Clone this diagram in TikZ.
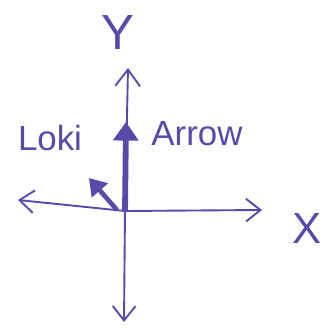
\documentclass[tikz,border=0pt]{standalone}
\usepackage{fontspec}
\setsansfont{Liberation Sans}
\usetikzlibrary{arrows.meta}
\definecolor{pen}{RGB}{88,74,168}

\begin{document}
\begin{tikzpicture}[x=0.0242cm, y=-0.0242cm, every node/.style={text=pen, font=\sffamily\fontsize{24}{26}\selectfont}]
    \useasboundingbox (0,0) rectangle (331,331);
    % Define the origin and the ends of the axes
    \coordinate (O) at (125,211);
    \coordinate (Xp) at (262,210);
    \coordinate (Xm) at (18,200);
    \coordinate (Yp) at (128,68);
    \coordinate (Ym) at (124,322);
    \coordinate (Atip) at (126,122);
    \coordinate (Lbase) at (117,210);
    \coordinate (Ltip) at (89,178);

    % Draw the axes with open tips
    \draw[pen, line width=1.3pt, {Straight Barb[length=0.35cm, width=0.55cm]}-{Straight Barb[length=0.35cm, width=0.55cm]}] (Xm) -- (O) -- (Xp);
    \draw[pen, line width=1.3pt, {Straight Barb[length=0.35cm, width=0.55cm]}-{Straight Barb[length=0.4cm, width=0.6cm]}] (Ym) -- (O) -- (Yp);

    % Draw the two thick arrows
    \draw[pen, line width=4pt, -{Triangle[length=0.45cm, width=0.6cm]}] (O) -- (Atip);
    \draw[pen, line width=3.2pt, -{Triangle[length=0.4cm, width=0.5cm]}] (Lbase) -- (Ltip);

    % Labels
    \node[font=\sffamily\fontsize{34}{36}\selectfont] (ylab) at (118,33) {Y};
    \node[font=\sffamily\fontsize{30}{32}\selectfont] (xlab) at (307,229) {X};
    \node (loki) at (50,138) {Loki};
    \node (arrow) at (197,134) {Arrow};
\end{tikzpicture}
\end{document}
